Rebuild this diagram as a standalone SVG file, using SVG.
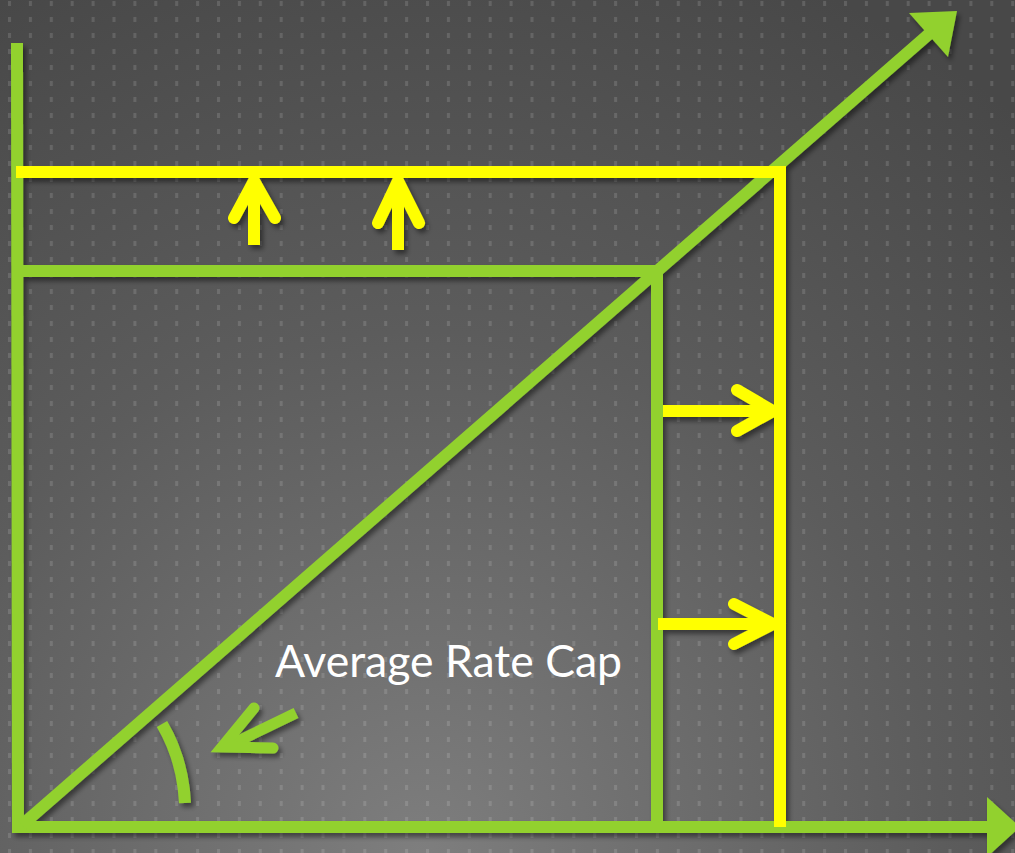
<svg xmlns="http://www.w3.org/2000/svg" width="1015" height="853" viewBox="0 0 1015 853">
<defs>
<radialGradient id="bg" cx="420" cy="853" r="950" gradientUnits="userSpaceOnUse">
<stop offset="0" stop-color="#7e7e7e"/>
<stop offset="0.55" stop-color="#5c5c5c"/>
<stop offset="1" stop-color="#484848"/>
</radialGradient>
<pattern id="dots" x="8" y="1" width="20.9" height="16" patternUnits="userSpaceOnUse">
<rect x="0" y="0" width="3" height="5" fill="#ffffff" fill-opacity="0.13"/>
</pattern>
<filter id="sh" x="-10%" y="-10%" width="120%" height="120%">
<feDropShadow dx="3" dy="4" stdDeviation="2.5" flood-color="#000" flood-opacity="0.45"/>
</filter>
</defs>
<style>
.g{stroke:#92d12f;stroke-width:12;fill:none}
.gf{fill:#92d12f}
.y{stroke:#ffff00;stroke-width:12;fill:none}
.ya{stroke:#ffff00;stroke-width:12;fill:none;stroke-linecap:round;stroke-linejoin:miter;stroke-miterlimit:10}
.ga{stroke:#92d12f;stroke-width:11;fill:none;stroke-linecap:round;stroke-linejoin:miter;stroke-miterlimit:10}
.lbl{font-family:Lato,"Liberation Sans",sans-serif;font-size:44px;fill:#ffffff}
</style>
<rect width="1015" height="853" fill="url(#bg)"/>
<rect width="1015" height="853" fill="url(#dots)"/>
<g id="connectors" filter="url(#sh)">
<g id="axes">
<line class="g" x1="17" y1="43" x2="18" y2="833"/>
<line class="g" x1="24" y1="827" x2="992" y2="827"/>
<polygon class="gf" points="987,797 1020,827 987,857"/>
<line class="g" x1="22" y1="825" x2="929" y2="34"/>
<polygon class="gf" points="909,13 957,11 948,57"/>
</g>
<g id="green-box">
<line class="g" x1="23" y1="271" x2="657" y2="271"/>
<line class="g" x1="657" y1="270" x2="657" y2="827"/>
</g>
<g id="yellow-box">
<line class="y" x1="16" y1="172" x2="786" y2="172"/>
<line class="y" x1="780" y1="172" x2="780" y2="827"/>
</g>
<g id="up-arrows">
<line class="y" x1="254" y1="245" x2="254" y2="180"/>
<polyline class="ya" points="234,218 254,181 275,218"/>
<line class="y" x1="398" y1="250" x2="398" y2="180"/>
<polyline class="ya" points="378,223 398,181 419,223"/>
</g>
<g id="right-arrows">
<line class="y" x1="663" y1="411" x2="772" y2="411"/>
<polyline class="ya" points="737,390 773,411 737,431"/>
<line class="y" x1="658" y1="624" x2="772" y2="624"/>
<polyline class="ya" points="734,604 773,624 734,644"/>
</g>
<g id="angle">
<path class="g" d="M 162 724 Q 183 760 185 803" stroke-width="10"/>
<line x1="296" y1="713" x2="226" y2="747" stroke="#92d12f" stroke-width="11"/>
<polyline class="ga" points="254,708 222,747 273,748"/>
</g>
</g>
<g id="label">
<text class="lbl" x="275" y="677" textLength="347" lengthAdjust="spacingAndGlyphs">Average Rate Cap</text>
</g>
</svg>
